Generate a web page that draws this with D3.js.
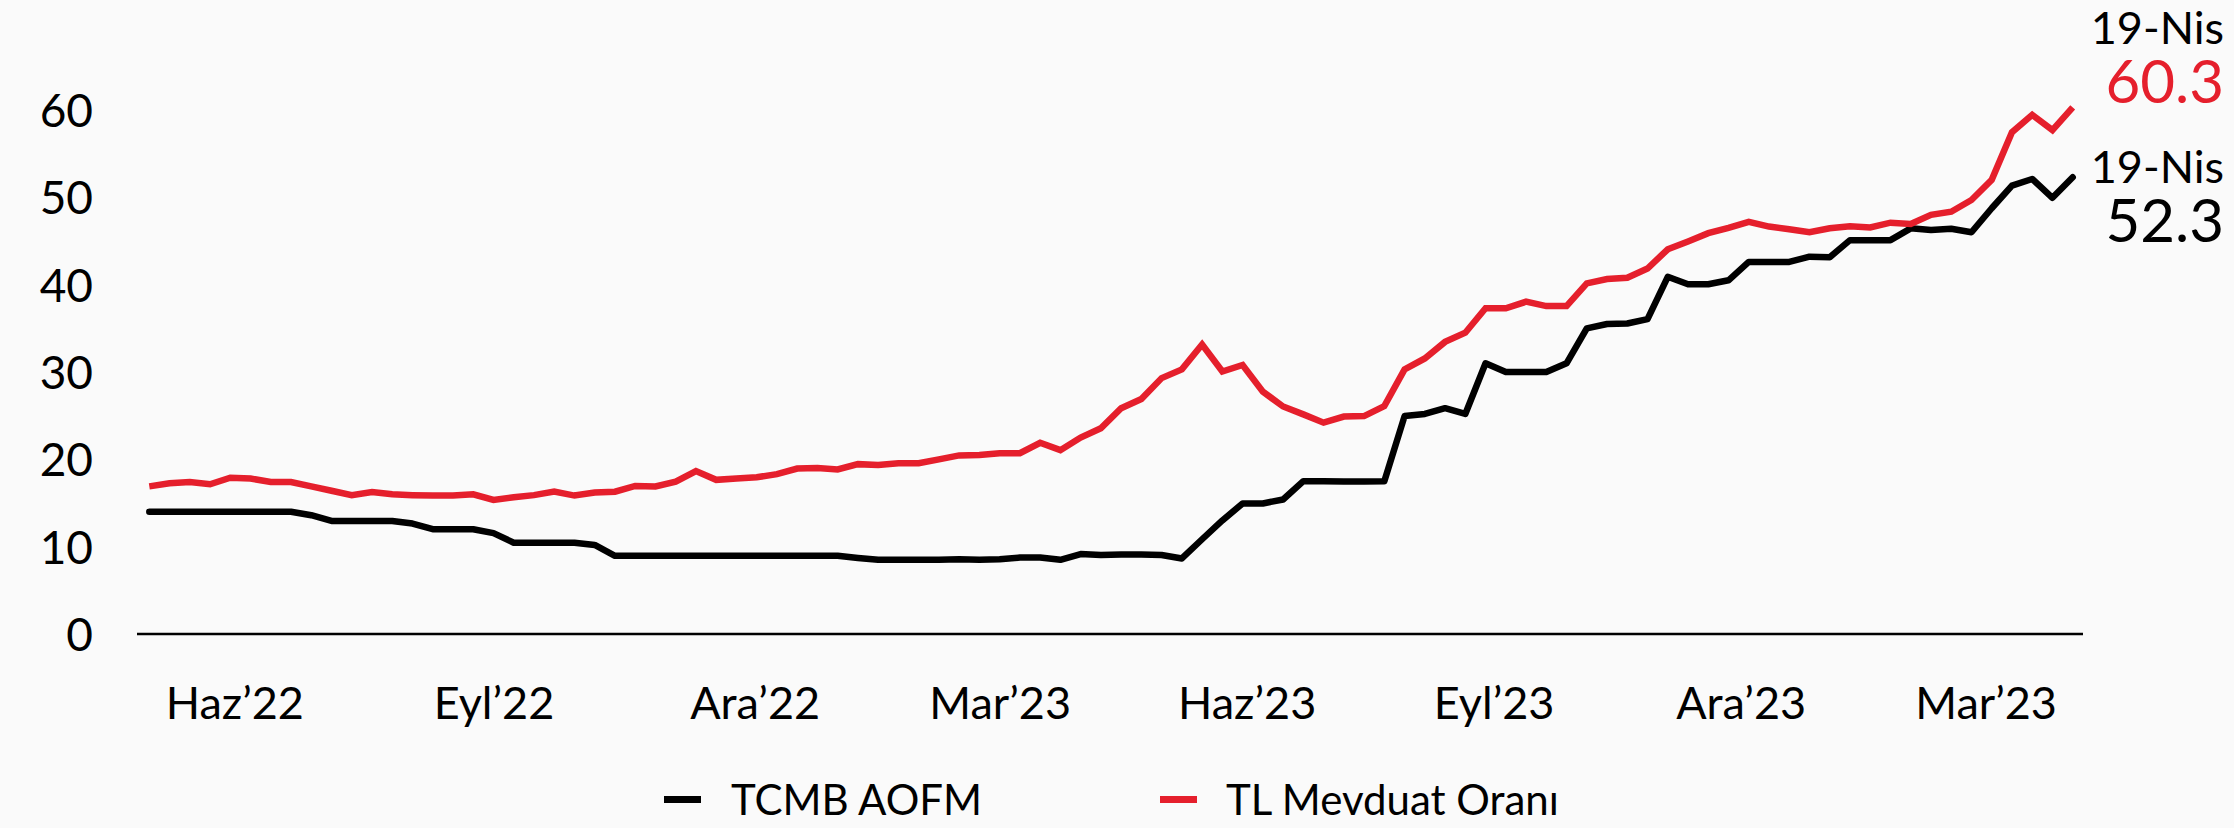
<!DOCTYPE html>
<html><head><meta charset="utf-8">
<script src="https://cdn.jsdelivr.net/npm/d3@7"></script>
<style>
html,body{margin:0;padding:0;background:#fafafa;}
svg{display:block;background:#fafafa;}
text{font-family:Lato, "Noto Sans", sans-serif;fill:#000;}
</style></head><body>
<svg id="chart" width="2234" height="828"></svg>
<script>
// ---- data (weekly observations, May 2022 – 19 Apr 2024) ----
const seriesNames = ["TCMB AOFM", "TL Mevduat Oranı"];
const seriesColors = ["#000000", "#e51f2c"];
const aofm = [
  14.0,14.0,14.0,14.0,14.0,14.0,14.0,14.0,13.6,12.95,
  12.95,12.95,12.95,12.65,12.0,12.0,12.0,11.55,10.45,10.45,
  10.45,10.45,10.2,8.95,8.95,8.95,8.95,8.95,8.95,8.95,
  8.95,8.95,8.95,8.95,8.95,8.7,8.5,8.5,8.5,8.5,
  8.55,8.5,8.55,8.75,8.75,8.5,9.15,9.05,9.1,9.1,
  9.05,8.65,10.85,13.0,14.95,14.95,15.4,17.5,17.5,17.45,
  17.45,17.5,24.95,25.2,25.85,25.2,31.0,30.0,30.0,30.0,
  31.0,35.0,35.5,35.55,36.05,40.9,40.05,40.05,40.5,42.6,
  42.6,42.6,43.2,43.15,45.1,45.1,45.1,46.45,46.25,46.4,
  46.0,48.75,51.35,52.1,49.95,52.3
];
const mevduat = [
  16.9,17.25,17.4,17.15,17.9,17.8,17.4,17.4,16.9,16.4,
  15.9,16.25,16.0,15.9,15.85,15.85,16.0,15.35,15.65,15.9,
  16.3,15.85,16.2,16.3,16.95,16.9,17.45,18.65,17.65,17.8,
  17.95,18.3,18.95,19.0,18.85,19.45,19.35,19.55,19.55,20.0,
  20.45,20.5,20.7,20.7,21.9,21.05,22.5,23.55,25.85,26.9,
  29.3,30.3,33.15,30.05,30.8,27.75,26.05,25.15,24.2,24.9,
  24.95,26.1,30.3,31.55,33.45,34.5,37.3,37.3,38.05,37.55,
  37.55,40.15,40.65,40.8,41.85,44.05,44.95,45.9,46.5,47.2,
  46.65,46.35,46.0,46.45,46.7,46.55,47.1,46.95,48.0,48.35,
  49.7,52.0,57.45,59.45,57.7,60.3
];
const xTickPos = [4.2, 17.0, 29.9, 42.0, 54.2, 66.4, 78.6, 90.7];
const xTickLabels = ["Haz’22","Eyl’22","Ara’22","Mar’23","Haz’23","Eyl’23","Ara’23","Mar’23"];
const yTicks = [0, 10, 20, 30, 40, 50, 60];
const endDateLabel = "19-Nis";

// ---- layout ----
const svg = d3.select("#chart");
const n = aofm.length;
const x = d3.scaleLinear().domain([0, n - 1]).range([149.3, 2072.7]);
const y = d3.scaleLinear().domain([0, 60]).range([634, 110]);

// y axis
const yAxis = svg.append("g").attr("transform", "translate(100,0)")
  .call(d3.axisLeft(y).tickValues(yTicks).tickSize(0).tickPadding(7));
yAxis.select(".domain").remove();
yAxis.selectAll("text").attr("font-size", 46).attr("font-family", "Lato").attr("fill", "#000").attr("dy", "0.36em");

// x axis
const xAxis = svg.append("g").attr("transform", "translate(0,634)")
  .call(d3.axisBottom(x).tickValues(xTickPos).tickFormat((d, i) => xTickLabels[i]).tickSize(0));
xAxis.select(".domain").remove();
xAxis.selectAll("text").attr("font-size", 45).attr("font-family", "Lato").attr("fill", "#000")
  .attr("dy", null).attr("y", 85);

// baseline
svg.append("line").attr("x1", 137).attr("x2", 2083).attr("y1", y(0)).attr("y2", y(0))
  .attr("stroke", "#000").attr("stroke-width", 2.5);

// lines
const line = d3.line().x((d, i) => x(i)).y(d => y(d));
svg.append("path").datum(aofm).attr("d", line).attr("fill", "none")
  .attr("stroke", seriesColors[0]).attr("stroke-width", 6.5)
  .attr("stroke-linejoin", "round").attr("stroke-linecap", "round");
svg.append("path").datum(mevduat).attr("d", line).attr("fill", "none")
  .attr("stroke", seriesColors[1]).attr("stroke-width", 6.5)
  .attr("stroke-linejoin", "miter").attr("stroke-linecap", "butt");

// end labels (date + last value as one text block each)
const endX = 2224;
function endLabel(y0, value, color) {
  const t = svg.append("text").attr("text-anchor", "end");
  t.append("tspan").attr("x", endX).attr("y", y0).attr("font-size", 45).text(endDateLabel);
  t.append("tspan").attr("x", endX).attr("y", y0 + 59).attr("font-size", 60)
    .style("fill", color).text(value.toFixed(1));
}
endLabel(44, mevduat[n - 1], seriesColors[1]);
endLabel(183, aofm[n - 1], seriesColors[0]);

// legend
const legendItems = [{sx: 664, tx: 731}, {sx: 1160, tx: 1226}];
legendItems.forEach((p, i) => {
  svg.append("rect").attr("x", p.sx).attr("y", 796).attr("width", 37).attr("height", 7)
    .attr("fill", seriesColors[i]);
  svg.append("text").attr("x", p.tx).attr("y", 815).attr("font-size", 42).text(seriesNames[i]);
});
</script>
</body></html>
